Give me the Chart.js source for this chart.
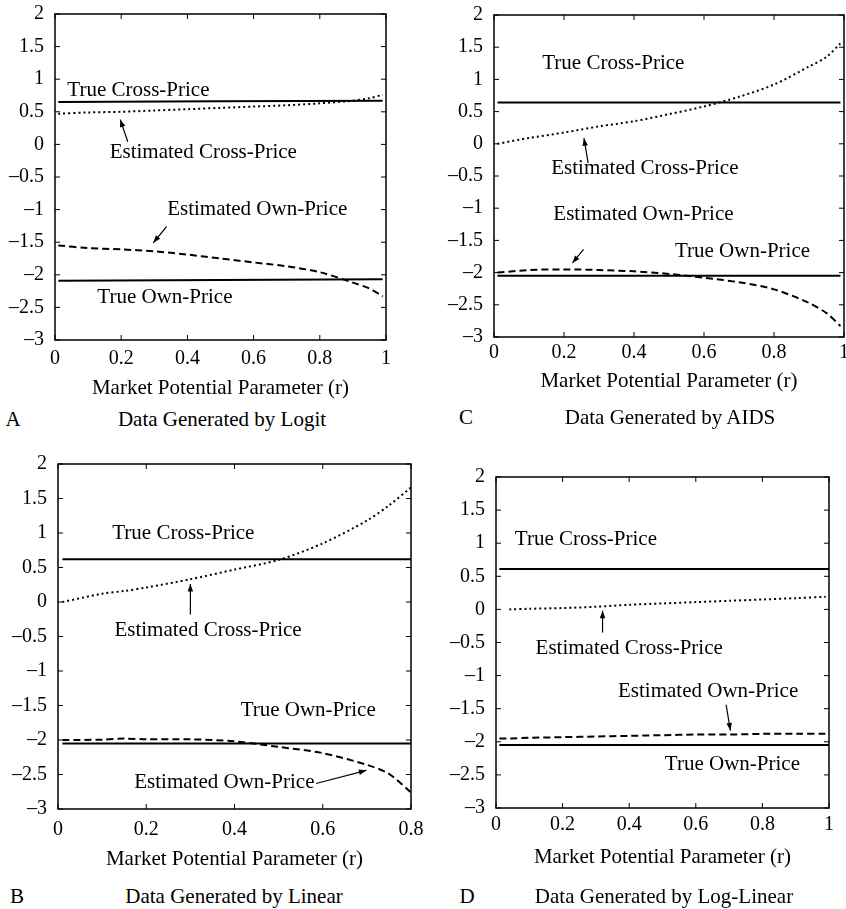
<!DOCTYPE html>
<html>
<head>
<meta charset="utf-8">
<script src="https://cdn.jsdelivr.net/npm/chart.js@4"></script>
<style>
  body { margin: 0; background: #fff; overflow: hidden; }
  #page { position: relative; width: 846px; height: 909px; overflow: hidden; font-family: 'Liberation Serif', 'Times New Roman', serif; color: #000; }
  canvas { position: absolute; }
  .cap { position: absolute; font-size: 21px; transform: translate(-50%, -50%); white-space: nowrap; }
</style>
</head>
<body>
<div id="page">
  <canvas id="chartA" width="400" height="411" style="left:0;top:-10px"></canvas>
  <canvas id="chartC" width="433" height="404" style="left:423px;top:-10px"></canvas>
  <canvas id="chartB" width="440" height="432" style="left:0;top:440px"></canvas>
  <canvas id="chartD" width="423" height="430" style="left:423px;top:440px"></canvas>

  <div class="cap" style="left:13px;top:419px">A</div>
  <div class="cap" style="left:222px;top:419px">Data Generated by Logit</div>
  <div class="cap" style="left:466px;top:417px">C</div>
  <div class="cap" style="left:670px;top:417px">Data Generated by AIDS</div>
  <div class="cap" style="left:17px;top:896px">B</div>
  <div class="cap" style="left:234px;top:896px">Data Generated by Linear</div>
  <div class="cap" style="left:467px;top:896px">D</div>
  <div class="cap" style="left:664px;top:896px">Data Generated by Log-Linear</div>
</div>
<script>
// ---- data ----
const yTicks = [2, 1.5, 1, 0.5, 0, -0.5, -1, -1.5, -2, -2.5, -3];
const xTitle = 'Market Potential Parameter (r)';

// A: Logit
const xA = [0.01, 0.1, 0.2, 0.3, 0.4, 0.5, 0.6, 0.7, 0.8, 0.9, 0.95, 0.99];
const estCrossA = [0.47, 0.49, 0.50, 0.52, 0.54, 0.56, 0.58, 0.60, 0.63, 0.67, 0.71, 0.76];
const estOwnA = [-1.55, -1.59, -1.61, -1.64, -1.69, -1.75, -1.81, -1.87, -1.96, -2.12, -2.21, -2.33];
const trueXA = [0.01, 0.99];
const trueCrossA = [0.65, 0.67];
const trueOwnA = [-2.09, -2.07];

// C: AIDS
const xC = [0.01, 0.1, 0.2, 0.3, 0.4, 0.5, 0.6, 0.7, 0.8, 0.9, 0.95, 0.99];
const estCrossC = [0.0, 0.09, 0.175, 0.27, 0.35, 0.46, 0.58, 0.73, 0.92, 1.20, 1.35, 1.56];
const estOwnC = [-2.0, -1.96, -1.95, -1.96, -1.98, -2.02, -2.08, -2.15, -2.26, -2.47, -2.63, -2.83];
const trueXC = [0.01, 0.99];
const trueCrossC = [0.64, 0.64];
const trueOwnC = [-2.05, -2.05];

// B: Linear
const xB = [0.01, 0.1, 0.15, 0.2, 0.3, 0.4, 0.5, 0.6, 0.7, 0.75, 0.8];
const estCrossB = [0.0, 0.12, 0.16, 0.21, 0.33, 0.47, 0.61, 0.85, 1.18, 1.40, 1.66];
const estOwnB = [-2.0, -1.995, -1.98, -1.99, -1.99, -2.02, -2.10, -2.19, -2.36, -2.49, -2.76];
const trueXB = [0.01, 0.8];
const trueCrossB = [0.62, 0.62];
const trueOwnB = [-2.05, -2.05];

// D: Log-Linear
const xD = [0.01, 0.04, 0.1, 0.2, 0.3, 0.4, 0.5, 0.6, 0.7, 0.8, 0.9, 0.99];
const estCrossD = [null, 0.0, 0.01, 0.02, 0.04, 0.07, 0.09, 0.11, 0.13, 0.15, 0.17, 0.19];
const estOwnD = [-1.95, -1.95, -1.94, -1.93, -1.92, -1.91, -1.90, -1.89, -1.89, -1.88, -1.88, -1.88];
const trueXD = [0.01, 1.0];
const trueCrossD = [0.61, 0.61];
const trueOwnD = [-2.05, -2.05];

Chart.defaults.font.family = "'Liberation Serif', 'Times New Roman', serif";
Chart.defaults.color = '#000';

function pts(xs, ys) {
    return xs.map((x, i) => ({ x: x, y: ys[i] }));
}

// frame with inward tick marks on all four sides
const framePlugin = {
    id: 'frame',
    afterDatasetsDraw(chart) {
        const { ctx, chartArea: a, scales } = chart;
        ctx.save();
        ctx.strokeStyle = '#000';
        ctx.lineWidth = 1.5;
        ctx.strokeRect(a.left, a.top, a.right - a.left, a.bottom - a.top);
        ctx.lineWidth = 1;
        ctx.beginPath();
        scales.x.ticks.forEach(t => {
            const px = scales.x.getPixelForValue(t.value);
            ctx.moveTo(px, a.bottom); ctx.lineTo(px, a.bottom - 5);
            ctx.moveTo(px, a.top); ctx.lineTo(px, a.top + 5);
        });
        scales.y.ticks.forEach(t => {
            const py = scales.y.getPixelForValue(t.value);
            ctx.moveTo(a.left, py); ctx.lineTo(a.left + 5, py);
            ctx.moveTo(a.right, py); ctx.lineTo(a.right - 5, py);
        });
        ctx.stroke();
        ctx.restore();
    }
};

// text labels and arrows placed in data units
const notesPlugin = {
    id: 'notes',
    afterDraw(chart, args, opts) {
        const { ctx, scales } = chart;
        const X = v => scales.x.getPixelForValue(v);
        const Y = v => scales.y.getPixelForValue(v);
        ctx.save();
        ctx.fillStyle = '#000';
        ctx.strokeStyle = '#000';
        ctx.font = "21px 'Liberation Serif', 'Times New Roman', serif";
        ctx.textAlign = 'center';
        ctx.textBaseline = 'middle';
        (opts.labels || []).forEach(l => ctx.fillText(l.text, X(l.x), Y(l.y)));
        ctx.lineWidth = 1.2;
        (opts.arrows || []).forEach(ar => {
            const x1 = X(ar.from[0]), y1 = Y(ar.from[1]);
            const x2 = X(ar.to[0]), y2 = Y(ar.to[1]);
            const ang = Math.atan2(y2 - y1, x2 - x1);
            ctx.beginPath();
            ctx.moveTo(x1, y1); ctx.lineTo(x2, y2);
            ctx.stroke();
            ctx.beginPath();
            ctx.moveTo(x2, y2);
            ctx.lineTo(x2 - 8 * Math.cos(ang - 0.35), y2 - 8 * Math.sin(ang - 0.35));
            ctx.lineTo(x2 - 8 * Math.cos(ang + 0.35), y2 - 8 * Math.sin(ang + 0.35));
            ctx.closePath();
            ctx.fill();
        });
        ctx.restore();
    }
};

function makePanel(id, p) {
    const line = (data, dash) => ({
        data: data,
        borderColor: '#000',
        borderWidth: 2,
        borderDash: dash,
        pointRadius: 0,
        tension: 0.3,
        fill: false
    });
    new Chart(document.getElementById(id), {
        type: 'line',
        data: {
            datasets: [
                line(pts(p.trueX, p.trueCross), []),
                line(pts(p.trueX, p.trueOwn), []),
                line(pts(p.x, p.estCross), [2, 3]),
                line(pts(p.x, p.estOwn), [7, 4])
            ]
        },
        options: {
            responsive: false,
            animation: false,
            layout: { padding: p.pad },
            plugins: {
                legend: { display: false },
                tooltip: { enabled: false },
                notes: { labels: p.labels, arrows: p.arrows }
            },
            scales: {
                x: {
                    type: 'linear',
                    min: 0,
                    max: p.xMax,
                    grid: { display: false, drawTicks: false },
                    border: { display: false },
                    ticks: {
                        stepSize: 0.2,
                        padding: p.tickPad,
                        maxRotation: 0,
                        autoSkip: false,
                        font: { size: 20 },
                        callback: v => String(Number(v.toFixed(1)))
                    },
                    title: { display: true, text: xTitle, font: { size: 21 }, padding: { top: 0, bottom: 0 } },
                    afterFit: s => { s.height = p.xH; }
                },
                y: {
                    min: -3,
                    max: 2,
                    grid: { display: false, drawTicks: false },
                    border: { display: false },
                    afterBuildTicks: s => { s.ticks = yTicks.map(v => ({ value: v })); },
                    ticks: {
                        padding: 11,
                        font: { size: 20 },
                        callback: v => (v < 0 ? '\u2013' + String(-v) : String(v))
                    },
                    afterFit: s => { s.width = 50; }
                }
            }
        },
        plugins: [framePlugin, notesPlugin]
    });
}

makePanel('chartA', {
    x: xA, estCross: estCrossA, estOwn: estOwnA,
    trueX: trueXA, trueCross: trueCrossA, trueOwn: trueOwnA,
    xMax: 1, pad: { left: 5, top: 24, right: 14, bottom: 0 }, tickPad: 7, xH: 61,
    labels: [
        { text: 'True Cross-Price', x: 0.252, y: 0.83 },
        { text: 'Estimated Cross-Price', x: 0.448, y: -0.12 },
        { text: 'Estimated Own-Price', x: 0.611, y: -1.0 },
        { text: 'True Own-Price', x: 0.332, y: -2.35 }
    ],
    arrows: [
        { from: [0.22, 0.04], to: [0.197, 0.38] },
        { from: [0.337, -1.26], to: [0.297, -1.51] }
    ]
});

makePanel('chartC', {
    x: xC, estCross: estCrossC, estOwn: estOwnC,
    trueX: trueXC, trueCross: trueCrossC, trueOwn: trueOwnC,
    xMax: 1, pad: { left: 21, top: 25, right: 12, bottom: 0 }, tickPad: 4, xH: 57,
    labels: [
        { text: 'True Cross-Price', x: 0.341, y: 1.24 },
        { text: 'Estimated Cross-Price', x: 0.431, y: -0.39 },
        { text: 'Estimated Own-Price', x: 0.427, y: -1.09 },
        { text: 'True Own-Price', x: 0.71, y: -1.67 }
    ],
    arrows: [
        { from: [0.269, -0.30], to: [0.257, 0.087] },
        { from: [0.256, -1.64], to: [0.224, -1.85] }
    ]
});

makePanel('chartB', {
    x: xB, estCross: estCrossB, estOwn: estOwnB,
    trueX: trueXB, trueCross: trueCrossB, trueOwn: trueOwnB,
    xMax: 0.8, pad: { left: 8, top: 24, right: 29, bottom: 0 }, tickPad: 9, xH: 63,
    labels: [
        { text: 'True Cross-Price', x: 0.284, y: 0.99 },
        { text: 'Estimated Cross-Price', x: 0.34, y: -0.42 },
        { text: 'True Own-Price', x: 0.567, y: -1.57 },
        { text: 'Estimated Own-Price', x: 0.377, y: -2.61 }
    ],
    arrows: [
        { from: [0.30, -0.18], to: [0.30, 0.26] },
        { from: [0.585, -2.63], to: [0.699, -2.44] }
    ]
});

makePanel('chartD', {
    x: xD, estCross: estCrossD, estOwn: estOwnD,
    trueX: trueXD, trueCross: trueCrossD, trueOwn: trueOwnD,
    xMax: 1, pad: { left: 23, top: 37, right: 17, bottom: 0 }, tickPad: 5, xH: 62,
    labels: [
        { text: 'True Cross-Price', x: 0.27, y: 1.05 },
        { text: 'Estimated Cross-Price', x: 0.40, y: -0.585 },
        { text: 'Estimated Own-Price', x: 0.637, y: -1.24 },
        { text: 'True Own-Price', x: 0.71, y: -2.35 }
    ],
    arrows: [
        { from: [0.32, -0.35], to: [0.32, -0.02] },
        { from: [0.691, -1.44], to: [0.704, -1.83] }
    ]
});
</script>
</body>
</html>
